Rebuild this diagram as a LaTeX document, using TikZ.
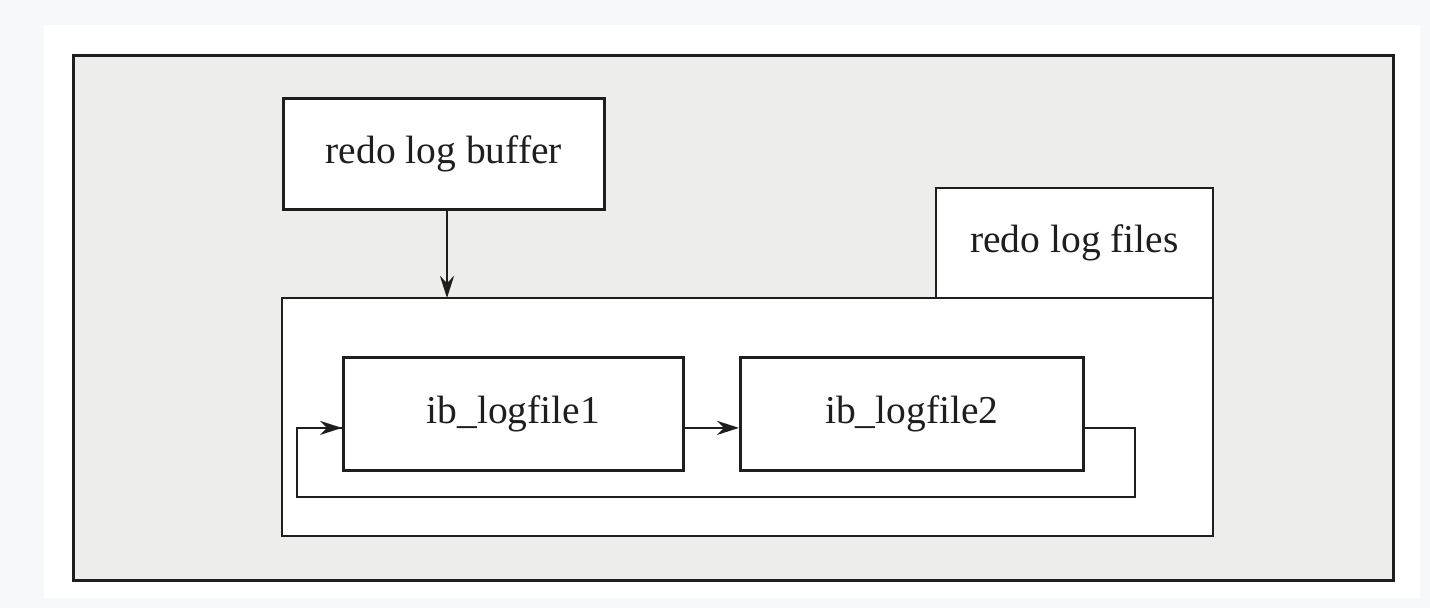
\documentclass[tikz,border=0pt]{standalone}
\usepackage{fontspec}
\setmainfont{Liberation Serif}
\usetikzlibrary{arrows.meta}
\definecolor{pagebg}{RGB}{247,248,250}
\definecolor{panelfill}{RGB}{237,237,235}
\definecolor{ink}{RGB}{30,30,30}
\begin{document}
\begin{tikzpicture}[x=1pt,y=-1pt,
  box/.style={draw=ink,line width=2.8pt,fill=white},
  lbl/.style={font=\fontsize{39.5}{42}\selectfont,text=ink},
  conn/.style={draw=ink,line width=2.8pt,-{Stealth[length=22pt,width=14pt]}},
  plain/.style={draw=ink,line width=2.8pt}]
\useasboundingbox (0,0) rectangle (1430,608);
\fill[pagebg] (0,0) rectangle (1430,608);
\fill[white] (44,25) rectangle (1420,598);
\draw[draw=ink,line width=3pt,fill=panelfill] (73,55) rectangle (1393,580);
% redo log files tab and big box
\draw[box] (936,188) rectangle (1213,298);
\node[lbl] (files) at (1074.5,243) {redo log files};
\draw[box] (282,298) rectangle (1213,536);
\node[box,minimum width=321pt,minimum height=111pt,inner sep=0pt,anchor=north west] (buf) at (282,97) {};
\node[lbl] at (buf.center) {redo log buffer};
\coordinate (bigtop) at (447,298);
\draw[conn] (buf.south -| bigtop) -- (bigtop);
\node[box,minimum width=340pt,minimum height=113pt,inner sep=0pt,anchor=north west] (f1) at (342,356) {};
\node[lbl] at (f1.center) {ib\_logfile1};
\node[box,minimum width=343pt,minimum height=113pt,inner sep=0pt,anchor=north west] (f2) at (739,356) {};
\node[lbl] at (f2.center) {ib\_logfile2};
\coordinate (f1e) at ([yshift=-14pt]f1.east);
\coordinate (f1w) at ([yshift=-14pt]f1.west);
\coordinate (f2e) at ([yshift=-14pt]f2.east);
\coordinate (f2w) at ([yshift=-14pt]f2.west);
\draw[conn] (f1e) -- (f2w);
\coordinate (r) at (1135,497);
\coordinate (l) at (297,497);
\draw[plain] (f2e) -| (r) -- (l) |- (f1w);
\draw[conn] (l |- f1w) -- (f1w);
\end{tikzpicture}
\end{document}
